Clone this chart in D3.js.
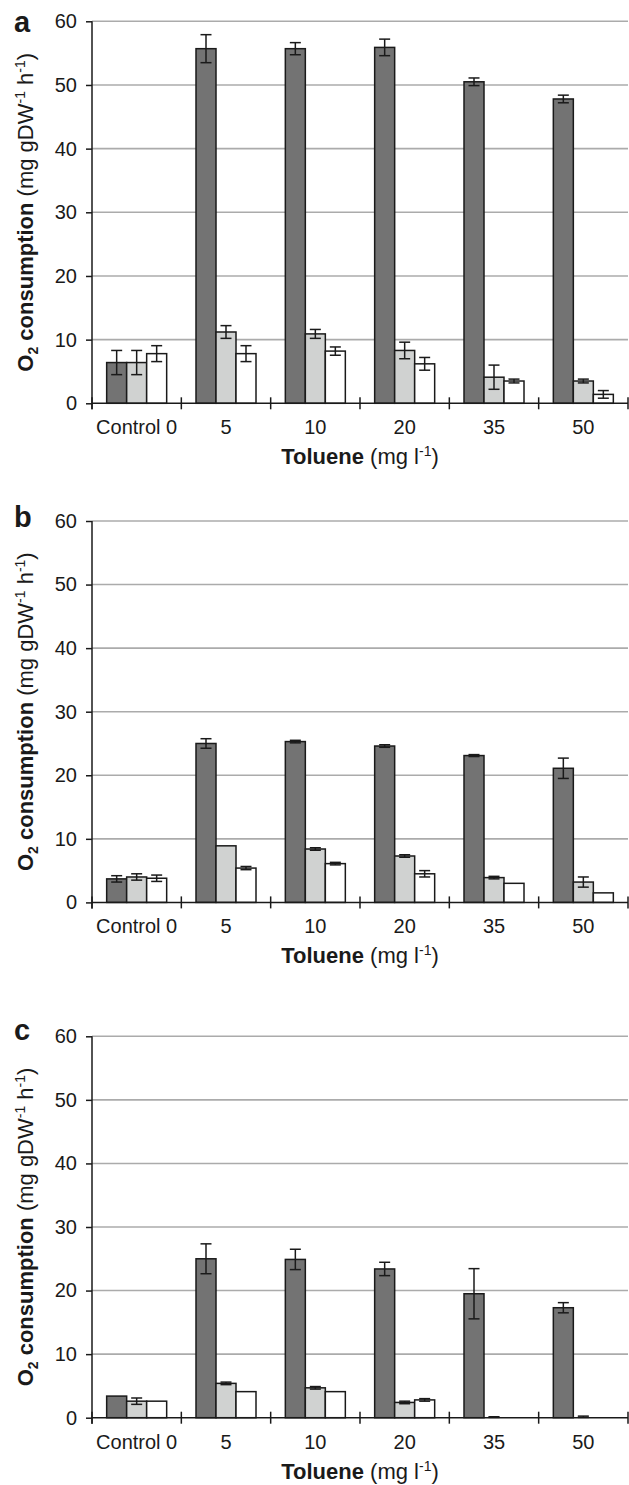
<!DOCTYPE html>
<html>
<head>
<meta charset="utf-8">
<script src="https://cdn.jsdelivr.net/npm/d3@7"></script>
<style>
  html, body { margin: 0; padding: 0; background: #fff; }
  svg { display: block; }
  text { font-family: "Liberation Sans", Arial, Helvetica, sans-serif; fill: #1a1a1a; }
</style>
</head>
<body>
<svg id="chart" width="629" height="1485"></svg>
<script>
// Toluene concentrations (mg l-1) on the x axis
const categories = ["Control 0", "5", "10", "20", "35", "50"];
const yTicks = [0, 10, 20, 30, 40, 50, 60];
const seriesKeys = ["dark", "light", "white"];

// Panel a: O2 consumption means and error half-widths
const aDark = [6.4, 55.7, 55.7, 55.9, 50.5, 47.8];
const aDarkErr = [1.9, 2.2, 0.95, 1.3, 0.6, 0.6];
const aLight = [6.4, 11.2, 10.9, 8.3, 4.1, 3.5];
const aLightErr = [1.9, 1.0, 0.7, 1.3, 1.9, 0.3];
const aWhite = [7.8, 7.8, 8.2, 6.2, 3.5, 1.4];
const aWhiteErr = [1.25, 1.25, 0.65, 1.0, 0.3, 0.6];

// Panel b
const bDark = [3.7, 25.0, 25.3, 24.6, 23.1, 21.1];
const bDarkErr = [0.5, 0.75, 0.2, 0.2, 0.15, 1.6];
const bLight = [4.0, 8.9, 8.4, 7.3, 3.9, 3.2];
const bLightErr = [0.5, 0, 0.2, 0.2, 0.2, 0.8];
const bWhite = [3.8, 5.4, 6.1, 4.5, 3.0, 1.5];
const bWhiteErr = [0.5, 0.25, 0.2, 0.5, 0, 0];

// Panel c
const cDark = [3.4, 25.0, 24.9, 23.4, 19.5, 17.3];
const cDarkErr = [0, 2.35, 1.6, 1.05, 3.95, 0.8];
const cLight = [2.6, 5.4, 4.7, 2.4, 0.1, 0.15];
const cLightErr = [0.5, 0.2, 0.2, 0.2, 0.05, 0.1];
const cWhite = [2.6, 4.1, 4.1, 2.8, 0, 0];
const cWhiteErr = [0, 0, 0, 0.2, 0, 0];

const panels = [
  { label: "a", values: [aDark, aLight, aWhite], errors: [aDarkErr, aLightErr, aWhiteErr] },
  { label: "b", values: [bDark, bLight, bWhite], errors: [bDarkErr, bLightErr, bWhiteErr] },
  { label: "c", values: [cDark, cLight, cWhite], errors: [cDarkErr, cLightErr, cWhiteErr] }
];

// Layout of each panel (pixel geometry)
const layout = [
  { top: 21.3, bottom: 403.3, labelY: 32 },
  { top: 521, bottom: 902.4, labelY: 527 },
  { top: 1036.3, bottom: 1417.7, labelY: 1040 }
];
const plotLeft = 92, plotRight = 628;
const fills = { dark: "#737373", light: "#d0d2d1", white: "#ffffff" };
const ink = "#1a1a1a";

const svg = d3.select("#chart");

const x = d3.scaleBand().domain(categories).range([plotLeft, plotRight]).padding(0);
const inner = d3.scaleBand().domain(seriesKeys).range([-30, 30]).padding(0);

panels.forEach((p, i) => {
  const L = layout[i];
  const y = d3.scaleLinear().domain([0, 60]).range([L.bottom, L.top]);
  const g = svg.append("g");

  // horizontal gridlines
  g.append("g").selectAll("line")
    .data(yTicks.filter(t => t > 0))
    .join("line")
    .attr("x1", plotLeft).attr("x2", plotRight)
    .attr("y1", d => y(d)).attr("y2", d => y(d))
    .attr("stroke", "#ababab").attr("stroke-width", 1.6);

  // bars
  const rows = [];
  categories.forEach((c, ci) => {
    seriesKeys.forEach((k, si) => {
      rows.push({ cat: c, key: k, v: p.values[si][ci], e: p.errors[si][ci] });
    });
  });
  const cx = d => x(d.cat) + x.bandwidth() / 2 + inner(d.key);

  g.append("g").selectAll("rect")
    .data(rows.filter(d => d.v > 0.2))
    .join("rect")
    .attr("x", d => cx(d))
    .attr("width", inner.bandwidth())
    .attr("y", d => y(d.v))
    .attr("height", d => y(0) - y(d.v))
    .attr("fill", d => fills[d.key])
    .attr("stroke", ink)
    .attr("stroke-width", 1.5);

  // error bars
  const eb = g.append("g").selectAll("g")
    .data(rows.filter(d => d.e > 0 || (d.v > 0 && d.v <= 0.2)))
    .join("g")
    .attr("stroke", ink)
    .attr("stroke-width", 1.5);
  const mid = d => cx(d) + inner.bandwidth() / 2;
  eb.append("line")
    .attr("x1", mid).attr("x2", mid)
    .attr("y1", d => y(d.v + d.e)).attr("y2", d => y(Math.max(0, d.v - d.e)));
  eb.append("line")
    .attr("x1", d => mid(d) - 5.5).attr("x2", d => mid(d) + 5.5)
    .attr("y1", d => y(d.v + d.e)).attr("y2", d => y(d.v + d.e));
  eb.append("line")
    .attr("x1", d => mid(d) - 5.5).attr("x2", d => mid(d) + 5.5)
    .attr("y1", d => y(Math.max(0, d.v - d.e))).attr("y2", d => y(Math.max(0, d.v - d.e)));

  // y axis
  const yAxis = g.append("g")
    .attr("transform", `translate(${plotLeft},0)`)
    .call(d3.axisLeft(y).tickValues(yTicks).tickSize(6).tickSizeOuter(0).tickPadding(9));
  yAxis.select(".domain").remove();
  yAxis.selectAll(".tick line").attr("stroke", ink).attr("stroke-width", 1.5);
  yAxis.selectAll(".tick text")
    .attr("font-size", 20).attr("fill", ink)
    .style("font-family", '"Liberation Sans", Arial, sans-serif');
  g.append("line")
    .attr("x1", plotLeft).attr("x2", plotLeft)
    .attr("y1", y(60)).attr("y2", y(0) + 6)
    .attr("stroke", ink).attr("stroke-width", 1.5);

  // x axis: baseline, boundary ticks, category labels
  g.append("line")
    .attr("x1", plotLeft).attr("x2", plotRight)
    .attr("y1", y(0)).attr("y2", y(0))
    .attr("stroke", ink).attr("stroke-width", 1.5);
  const bounds = categories.map(c => x(c)).concat([x.range()[1]]);
  g.append("g").selectAll("line")
    .data(bounds)
    .join("line")
    .attr("x1", d => d).attr("x2", d => d)
    .attr("y1", y(0) - 6).attr("y2", y(0) + 6)
    .attr("stroke", ink).attr("stroke-width", 1.5);
  g.append("g").selectAll("text")
    .data(categories)
    .join("text")
    .attr("x", d => x(d) + x.bandwidth() / 2)
    .attr("y", y(0) + 31)
    .attr("text-anchor", "middle")
    .attr("font-size", 20)
    .text(d => d);

  // x title
  const xt = g.append("text")
    .attr("x", (plotLeft + plotRight) / 2)
    .attr("y", y(0) + 61)
    .attr("text-anchor", "middle")
    .attr("font-size", 22);
  xt.append("tspan").attr("font-weight", "bold").text("Toluene");
  xt.append("tspan").text(" (mg l");
  xt.append("tspan").attr("font-size", 14).attr("dy", -8).text("-1");
  xt.append("tspan").attr("dy", 8).text(")");

  // y title
  const yt = g.append("text")
    .attr("transform", `translate(33,${(L.top + L.bottom) / 2}) rotate(-90)`)
    .attr("text-anchor", "middle")
    .attr("font-size", 22);
  yt.append("tspan").attr("font-weight", "bold").text("O");
  yt.append("tspan").attr("font-weight", "bold").attr("font-size", 14).attr("dy", 5).text("2");
  yt.append("tspan").attr("font-weight", "bold").attr("dy", -5).text(" consumption");
  yt.append("tspan").text(" (mg gDW");
  yt.append("tspan").attr("font-size", 14).attr("dy", -8).text("-1");
  yt.append("tspan").attr("dy", 8).text(" h");
  yt.append("tspan").attr("font-size", 14).attr("dy", -8).text("-1");
  yt.append("tspan").attr("dy", 8).text(")");

  // panel letter
  g.append("text")
    .attr("x", 14).attr("y", L.labelY)
    .attr("font-size", 29).attr("font-weight", "bold")
    .text(p.label);
});
</script>
</body>
</html>
